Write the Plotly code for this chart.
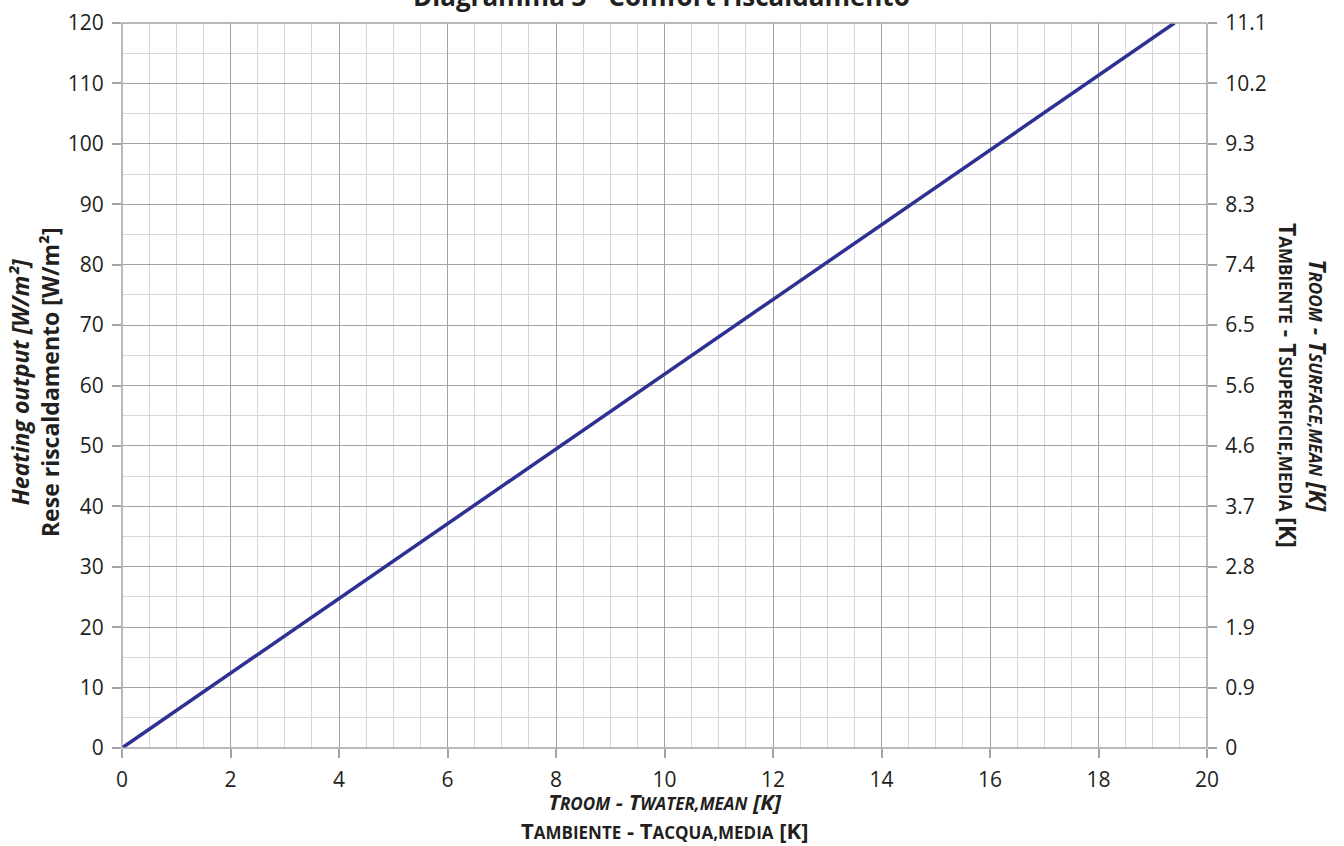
import plotly.graph_objects as go

# heating output curve
delta_t = [0, 19.4]
heating_output = [0, 120]

# axis ticks
x_ticks = [0, 2, 4, 6, 8, 10, 12, 14, 16, 18, 20]
y_ticks = [0, 10, 20, 30, 40, 50, 60, 70, 80, 90, 100, 110, 120]
right_labels = ['0', '0.9', '1.9', '2.8', '3.7', '4.6', '5.6', '6.5', '7.4', '8.3', '9.3', '10.2', '11.1']

FONT = 'Open Sans'
TXT = '#231f20'
MAJOR = '#a3a3a6'
MINOR = '#d8d8da'


def sc(s, size=17):
    # fake small caps
    return "<span style='font-size:%dpx'>%s</span>" % (size, s)


fig = go.Figure()
fig.add_trace(go.Scatter(x=delta_t, y=heating_output, mode='lines',
                         line=dict(color='#2e3192', width=3.5),
                         showlegend=False, hoverinfo='skip'))
# invisible trace for right axis
fig.add_trace(go.Scatter(x=delta_t, y=heating_output, yaxis='y2', mode='lines',
                         line=dict(width=0), opacity=0,
                         showlegend=False, hoverinfo='skip'))

axis_common = dict(showgrid=True, gridcolor=MAJOR, gridwidth=1,
                   ticks='outside', ticklen=9, tickcolor=MAJOR, tickwidth=1.5,
                   zeroline=False, showline=False, ticklabelstandoff=4,
                   automargin=False,
                   tickfont=dict(family=FONT, size=21, color=TXT))

fig.update_layout(
    width=1344, height=846,
    margin=dict(l=122, r=137, t=23, b=98),
    paper_bgcolor='white', plot_bgcolor='white',
    xaxis=dict(range=[0, 20], tickvals=x_ticks,
               minor=dict(dtick=0.5, showgrid=True, gridcolor=MINOR, ticks=''),
               **axis_common),
    yaxis=dict(range=[0, 120], tickvals=y_ticks,
               minor=dict(dtick=5, showgrid=True, gridcolor=MINOR, ticks=''),
               **axis_common),
    yaxis2=dict(range=[0, 120], overlaying='y', side='right',
                tickvals=y_ticks, ticktext=right_labels,
                showgrid=False, ticks='outside', ticklen=9, tickcolor=MAJOR,
                tickwidth=1.5, zeroline=False, showline=False, ticklabelstandoff=4,
                automargin=False,
                tickfont=dict(family=FONT, size=21, color=TXT)),
)

# frame of the grid
for x0, x1, y0, y1 in [(0, 1, 1, 1), (1, 1, 0, 1), (0, 0, 0, 1), (0, 1, 0, 0)]:
    fig.add_shape(type='line', xref='paper', yref='paper',
                  x0=x0, x1=x1, y0=y0, y1=y1,
                  line=dict(color=MAJOR, width=1.5))

# title, partly cut off at the top as in the source
fig.add_annotation(text='<b>Diagramma 3 - Comfort riscaldamento</b>',
                   xref='paper', yref='paper', x=0.497, y=1.037,
                   showarrow=False, yanchor='middle',
                   font=dict(family=FONT, size=26, color=TXT))

# x title
fig.add_annotation(
    text='<b><i>T' + sc('ROOM') + ' - T' + sc('WATER,MEAN') + ' [K]</i></b><br>'
         '<b>T' + sc('AMBIENTE') + ' - T' + sc('ACQUA,MEDIA') + ' [K]</b>',
    xref='paper', yref='paper', x=0.5, y=-0.049, yanchor='top',
    showarrow=False, font=dict(family=FONT, size=22, color=TXT))

# left y title
fig.add_annotation(
    text='<b><i>Heating output [W/m²]</i></b><br><b>Rese riscaldamento [W/m²]</b>',
    xref='paper', yref='paper', x=-0.08, y=0.505, xanchor='center',
    showarrow=False, textangle=-90, font=dict(family=FONT, size=23, color=TXT))

# right y title
fig.add_annotation(
    text='<b><i>T' + sc('ROOM') + ' - T' + sc('SURFACE,MEAN') + ' [K]</i></b><br>'
         '<b>T' + sc('AMBIENTE') + ' - T' + sc('SUPERFICIE,MEDIA') + ' [K]</b>',
    xref='paper', yref='paper', x=1.089, y=0.5, xanchor='center',
    showarrow=False, textangle=90, font=dict(family=FONT, size=23, color=TXT))

fig.write_html("out.html", config={'displayModeBar': False},
               post_script="document.body.style.margin='0';")
